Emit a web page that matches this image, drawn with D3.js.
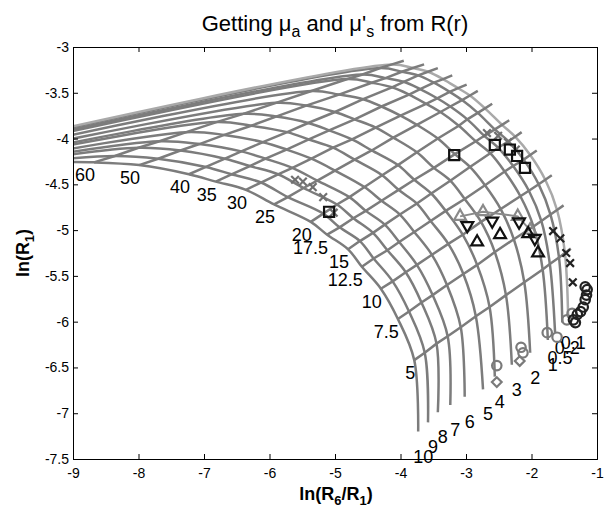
<!DOCTYPE html>
<html>
<head>
<meta charset="utf-8">
<title>Getting mua and mus' from R(r)</title>
<script src="https://cdn.jsdelivr.net/npm/d3@7"></script>
<style>
body{margin:0;background:#fff;font-family:"Liberation Sans",Arial,sans-serif}
</style>
</head>
<body>
<svg id=chart width=608 height=508></svg>
<script>
// absorption values (one arc each) and reduced scattering values (one spoke each)
var muA=[10,9,8,7,6,5,4,3,2,1,0.5,0.2,0.1]
var muA_txt=["10","9","8","7","6","5","4","3","2","1","0.5","0.2","0.1"]
var muS=[60,50,40,35,30,25,20,17.5,15,12.5,10,7.5,5]

// grid nodes: one row per muS, along muA 10 -> 0.1
var gridX=[
 [-8.68,-8.36,-8.00,-7.68,-7.27,-6.81,-6.40,-5.90,-5.36,-4.81,-4.58,-4.31,-4.13],
 [-7.99,-7.70,-7.36,-7.07,-6.69,-6.28,-5.90,-5.44,-4.94,-4.44,-4.23,-3.98,-3.81],
 [-7.23,-6.97,-6.68,-6.43,-6.10,-5.73,-5.41,-5.00,-4.57,-4.13,-3.95,-3.73,-3.58],
 [-6.82,-6.58,-6.30,-6.06,-5.74,-5.40,-5.09,-4.70,-4.29,-3.87,-3.70,-3.49,-3.35],
 [-6.36,-6.13,-5.87,-5.65,-5.36,-5.03,-4.74,-4.38,-4.00,-3.61,-3.44,-3.25,-3.12],
 [-5.93,-5.72,-5.48,-5.27,-5.00,-4.70,-4.44,-4.11,-3.75,-3.39,-3.24,-3.06,-2.94],
 [-5.37,-5.18,-4.97,-4.78,-4.55,-4.28,-4.04,-3.75,-3.43,-3.11,-2.98,-2.82,-2.71],
 [-5.12,-4.93,-4.72,-4.53,-4.29,-4.03,-3.79,-3.49,-3.17,-2.85,-2.72,-2.56,-2.45],
 [-4.80,-4.62,-4.42,-4.24,-4.01,-3.75,-3.53,-3.24,-2.94,-2.63,-2.51,-2.35,-2.25],
 [-4.59,-4.41,-4.20,-4.02,-3.79,-3.54,-3.31,-3.02,-2.71,-2.41,-2.28,-2.12,-2.02],
 [-4.30,-4.12,-3.92,-3.75,-3.52,-3.27,-3.05,-2.77,-2.47,-2.17,-2.04,-1.89,-1.79],
 [-4.04,-3.87,-3.68,-3.51,-3.29,-3.04,-2.83,-2.56,-2.27,-1.97,-1.85,-1.71,-1.61],
 [-3.79,-3.63,-3.45,-3.28,-3.08,-2.85,-2.64,-2.39,-2.11,-1.83,-1.72,-1.58,-1.49]
]
var gridY=[
 [-4.26,-4.19,-4.10,-4.03,-3.93,-3.82,-3.73,-3.61,-3.48,-3.35,-3.30,-3.23,-3.19],
 [-4.29,-4.22,-4.13,-4.06,-3.96,-3.86,-3.76,-3.64,-3.52,-3.39,-3.34,-3.27,-3.23],
 [-4.39,-4.31,-4.22,-4.14,-4.04,-3.93,-3.83,-3.71,-3.57,-3.44,-3.38,-3.31,-3.27],
 [-4.47,-4.39,-4.30,-4.22,-4.12,-4.01,-3.91,-3.79,-3.65,-3.52,-3.46,-3.39,-3.35],
 [-4.56,-4.48,-4.39,-4.32,-4.22,-4.10,-4.01,-3.88,-3.75,-3.62,-3.56,-3.49,-3.45],
 [-4.72,-4.64,-4.54,-4.46,-4.35,-4.23,-4.13,-3.99,-3.85,-3.71,-3.65,-3.58,-3.53],
 [-4.91,-4.82,-4.72,-4.64,-4.53,-4.40,-4.29,-4.15,-4.00,-3.86,-3.79,-3.72,-3.67],
 [-5.05,-4.97,-4.87,-4.79,-4.68,-4.56,-4.45,-4.32,-4.17,-4.03,-3.97,-3.90,-3.85],
 [-5.21,-5.12,-5.03,-4.94,-4.83,-4.71,-4.60,-4.46,-4.31,-4.16,-4.10,-4.03,-3.98],
 [-5.40,-5.31,-5.22,-5.13,-5.02,-4.90,-4.79,-4.66,-4.51,-4.36,-4.30,-4.23,-4.18],
 [-5.64,-5.56,-5.46,-5.38,-5.27,-5.15,-5.05,-4.91,-4.77,-4.63,-4.57,-4.50,-4.45],
 [-5.97,-5.89,-5.79,-5.71,-5.60,-5.48,-5.38,-5.24,-5.10,-4.96,-4.90,-4.83,-4.78],
 [-6.42,-6.34,-6.24,-6.16,-6.06,-5.94,-5.84,-5.71,-5.57,-5.43,-5.37,-5.30,-5.25]
]
// where each spoke stops, a little outside the last arc
var rimX=[-3.95,-3.64,-3.43,-3.21,-2.99,-2.82,-2.60,-2.34,-2.15,-1.92,-1.69,-1.51,-1.40]
var rimY=[-3.15,-3.19,-3.23,-3.31,-3.41,-3.48,-3.62,-3.80,-3.93,-4.13,-4.40,-4.73,-5.20]
// arc ends: off the left edge, and at the bottom
var headX=-9.4
var headY=[-4.26,-4.24,-4.21,-4.19,-4.16,-4.12,-4.10,-4.06,-4.02,-3.98,-3.96,-3.94,-3.93]
var tailX=[-3.73,-3.58,-3.43,-3.24,-3.02,-2.74,-2.56,-2.30,-2.02,-1.75,-1.64,-1.53,-1.44]
var tailY=[-7.20,-7.10,-6.99,-6.91,-6.82,-6.74,-6.60,-6.47,-6.34,-6.20,-6.12,-6.01,-5.96]

// measured points
var sqX=[-5.09,-3.18,-2.56,-2.33,-2.22,-2.10]
var sqY=[-4.80,-4.18,-4.07,-4.12,-4.19,-4.32]
var grayCrossX=[-5.61,-5.49,-5.34,-5.18,-5.02,-2.68,-2.51,-2.36,-2.24]
var grayCrossY=[-4.45,-4.47,-4.53,-4.64,-4.81,-3.94,-3.97,-4.04,-4.12]
var blackCrossX=[-1.67,-1.56,-1.47,-1.41,-1.37]
var blackCrossY=[-5.01,-5.09,-5.25,-5.36,-5.57]
var grayTriX=[-3.09,-2.74,-2.21,-2.02]
var grayTriY=[-4.85,-4.80,-4.85,-5.00]
var downTriX=[-2.98,-2.60,-2.19,-1.95]
var downTriY=[-4.95,-4.90,-4.91,-5.09]
var upTriX=[-2.83,-2.48,-2.05,-1.90]
var upTriY=[-5.13,-5.05,-5.04,-5.25]
var blackCircX=[-1.18,-1.15,-1.16,-1.18,-1.21,-1.25,-1.30,-1.36,-1.33]
var blackCircY=[-5.62,-5.65,-5.71,-5.76,-5.84,-5.89,-5.92,-5.98,-6.01]
var grayCircX=[-2.53,-2.16,-2.13,-1.76,-1.61,-1.46,-1.38]
var grayCircY=[-6.48,-6.28,-6.34,-6.12,-6.17,-5.98,-5.91]
var grayDiaX=[-2.53,-2.18]
var grayDiaY=[-6.66,-6.43]

var xTicks=[-9,-8,-7,-6,-5,-4,-3,-2,-1]
var yTicks=[-7.5,-7,-6.5,-6,-5.5,-5,-4.5,-4,-3.5,-3]

var x=d3.scaleLinear().domain([-9,-1]).range([73,597])
var y=d3.scaleLinear().domain([-7.5,-3]).range([459,47])
var svg=d3.select("#chart")

svg.append("clipPath").attr("id","plotClip").append("rect")
    .attr("x",x(-9)).attr("y",y(-3)).attr("width",x(-1)-x(-9)).attr("height",y(-7.5)-y(-3))

var grid=svg.append("g").attr("clip-path","url(#plotClip)")
var smooth=d3.line().x(function(d){return x(d[0])}).y(function(d){return y(d[1])})
    .curve(d3.curveCatmullRom.alpha(0.5))
var straight=d3.line().x(function(d){return x(d[0])}).y(function(d){return y(d[1])})

// arcs of constant muA
muA.forEach(function(a,i){
  var pts=[[headX,headY[i]]]
  muS.forEach(function(s,j){ pts.push([gridX[j][i],gridY[j][i]]) })
  pts.push([tailX[i],tailY[i]])
  grid.append("path").attr("d",smooth(pts)).attr("fill","none")
      .attr("stroke",i==muA.length-1?"#a9a9a9":"#7c7c7c").attr("stroke-width",2.5)
})
// spokes of constant muS
muS.forEach(function(s,j){
  var pts=gridX[j].map(function(v,i){return [v,gridY[j][i]]})
  pts.push([rimX[j],rimY[j]])
  grid.append("path").attr("d",straight(pts)).attr("fill","none")
      .attr("stroke","#7c7c7c").attr("stroke-width",2.5)
})

// labels on the grid
var lab=svg.append("g").attr("font-size",18).attr("fill","#000")
muS.forEach(function(s,j){
  lab.append("text").attr("x",x(gridX[j][0])+1).attr("y",y(gridY[j][0])+19)
     .attr("text-anchor","end").text(s)
})
muA.forEach(function(a,i){
  lab.append("text").attr("x",x(tailX[i])+5).attr("y",y(tailY[i])+31)
     .attr("text-anchor","middle").text(muA_txt[i])
})

// markers
function marks(xs,ys,type,size,color,rot){
  var sym=d3.symbol().type(type).size(size)
  svg.append("g").selectAll("path").data(xs).enter().append("path")
    .attr("d",sym)
    .attr("transform",function(d,i){return "translate("+x(d)+","+y(ys[i])+")"+(rot?" rotate(180)":"")})
    .attr("fill","none").attr("stroke",color).attr("stroke-width",2.2)
}
svg.append("path").attr("d",straight(grayTriX.map(function(v,i){return [v,grayTriY[i]]})))
   .attr("fill","none").attr("stroke","#8a8a8a").attr("stroke-width",2)
marks(grayCrossX,grayCrossY,d3.symbolTimes,40,"#707070")
marks(blackCrossX,blackCrossY,d3.symbolTimes,40,"#222")
marks(sqX,sqY,d3.symbolSquare2,130,"#111")
marks(grayTriX,grayTriY,d3.symbolTriangle2,100,"#8a8a8a")
marks(downTriX,downTriY,d3.symbolTriangle2,100,"#111",true)
marks(upTriX,upTriY,d3.symbolTriangle2,100,"#111")
marks(grayCircX,grayCircY,d3.symbolCircle,70,"#7a7a7a")
marks(grayDiaX,grayDiaY,d3.symbolDiamond2,60,"#7a7a7a")
marks(blackCircX,blackCircY,d3.symbolCircle,70,"#222")

// axes box with inward ticks
var fmt=function(d){return String(d)}
svg.append("g").attr("transform","translate(0,"+y(-7.5)+")")
   .call(d3.axisBottom(x).tickValues(xTicks).tickSize(-5).tickPadding(9).tickFormat(fmt))
svg.append("g").attr("transform","translate(0,"+y(-3)+")")
   .call(d3.axisTop(x).tickValues(xTicks).tickSize(-5).tickFormat(""))
svg.append("g").attr("transform","translate("+x(-9)+",0)")
   .call(d3.axisLeft(y).tickValues(yTicks).tickSize(-5).tickPadding(4).tickFormat(fmt))
svg.append("g").attr("transform","translate("+x(-1)+",0)")
   .call(d3.axisRight(y).tickValues(yTicks).tickSize(-5).tickFormat(""))
svg.selectAll(".tick text").attr("font-size",14).attr("font-family","Liberation Sans, Arial, sans-serif").attr("fill","#000")
svg.selectAll(".domain").attr("stroke","#000")

// title and axis labels
var t=svg.append("text").attr("x",335).attr("y",31).attr("text-anchor","middle").attr("font-size",22)
t.append("tspan").text("Getting \u03bc")
t.append("tspan").attr("dy",6).attr("font-size",16).text("a")
t.append("tspan").attr("dy",-6).text(" and \u03bc'")
t.append("tspan").attr("dy",6).attr("font-size",16).text("s")
t.append("tspan").attr("dy",-6).text(" from R(r)")

var xl=svg.append("text").attr("x",336).attr("y",500).attr("text-anchor","middle")
   .attr("font-size",18).attr("font-weight","bold")
xl.append("tspan").text("ln(R")
xl.append("tspan").attr("dy",5).attr("font-size",13).text("6")
xl.append("tspan").attr("dy",-5).text("/R")
xl.append("tspan").attr("dy",5).attr("font-size",13).text("1")
xl.append("tspan").attr("dy",-5).text(")")

var yl=svg.append("text").attr("transform","translate(29,253) rotate(-90)").attr("text-anchor","middle")
   .attr("font-size",18).attr("font-weight","bold")
yl.append("tspan").text("ln(R")
yl.append("tspan").attr("dy",5).attr("font-size",13).text("1")
yl.append("tspan").attr("dy",-5).text(")")
</script>
</body>
</html>
